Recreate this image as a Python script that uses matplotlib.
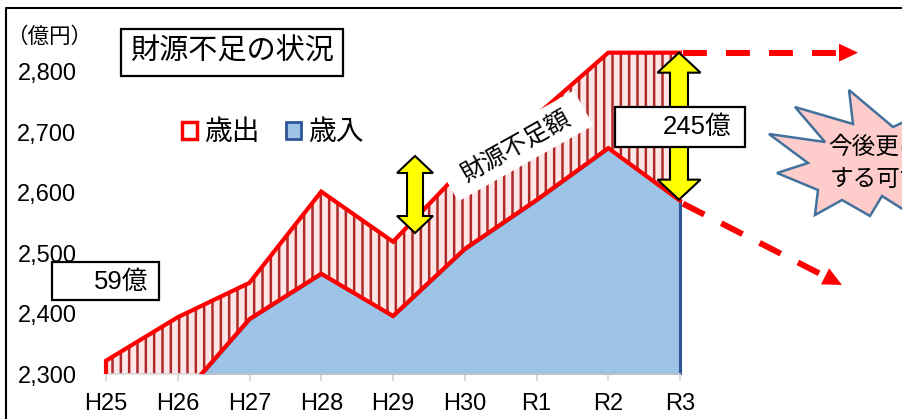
import numpy as np
import matplotlib
matplotlib.use('Agg')
import matplotlib.pyplot as plt
from matplotlib.patches import Rectangle, Polygon, Patch
from matplotlib.lines import Line2D
from matplotlib.transforms import Affine2D
from matplotlib.ticker import FuncFormatter

# data (億円)
years = ['H25', 'H26', 'H27', 'H28', 'H29', 'H30', 'R1', 'R2', 'R3']
expenditure = [2322, 2394, 2451, 2602, 2519, 2643, 2728, 2832, 2832]   # 歳出
revenue = [2263, 2255, 2391, 2466, 2396, 2507, 2588, 2674, 2587]       # 歳入
y_ticks = [2300, 2400, 2500, 2600, 2700, 2800]
gap_first = '59億'
gap_last = '245億'

W, H = 902, 419
plt.rcParams['font.family'] = ['Liberation Sans', 'Noto Sans CJK JP']
plt.rcParams['hatch.linewidth'] = 1.8

fig = plt.figure(figsize=(W / 100, H / 100), dpi=100)
# pixel coordinates, origin at top left
px = Affine2D().scale(1.0 / W, -1.0 / H).translate(0, 1) + fig.transFigure

x0, dx = 106, 71.75    # pixel of first year, pixels per year
y0, dy = 374, 0.604    # pixel of 2300, pixels per 億円
base = y_ticks[0]
left = 100
ax = fig.add_axes([left / W, (H - y0) / H, (W - left) / W, y0 / H])
ax.set_xlim((left - x0) / dx, (W - x0) / dx)
ax.set_ylim(base, base + y0 / dy)


def to_px(xv, yv):
    return (x0 + xv * dx, y0 - (yv - base) * dy)


x = np.arange(len(years))
exp = np.array(expenditure)
rev = np.array(revenue)

# shortfall (hatched) and revenue (blue) areas
ax.fill_between(x, rev, exp, facecolor='#fce6e6', edgecolor='#b02a2a',
                hatch='||', linewidth=0, zorder=1)
ax.fill_between(x, base, rev, where=rev >= base, interpolate=True,
                facecolor='#9dc3e6', edgecolor='#2f5597', linewidth=2.2, zorder=2)
ax.plot(np.r_[x[0], x], np.r_[base, exp], color='red', lw=3, zorder=3,
        solid_joinstyle='miter')
ax.plot(x, rev, color='red', lw=3, zorder=3, solid_joinstyle='miter')

for s in ['left', 'top', 'right']:
    ax.spines[s].set_visible(False)
ax.spines['bottom'].set_color('#d9d9d9')
ax.spines['bottom'].set_linewidth(1.2)
ax.spines['bottom'].set_bounds(x[0], x[-1])
ax.set_xticks(x)
ax.set_xticklabels(years)
ax.set_yticks(y_ticks)
ax.yaxis.set_major_formatter(FuncFormatter(lambda v, p: f'{v:,.0f}'))
ax.tick_params(axis='x', length=5, width=1.5, color='#d9d9d9', labelsize=17, pad=9)
ax.tick_params(axis='y', length=0, labelsize=17, pad=17)
ax.patch.set_visible(False)

# legend
handles = [Patch(facecolor='white', edgecolor='red', lw=2.5),
           Patch(facecolor='#9dc3e6', edgecolor='#2f5597', lw=2)]
ax.legend(handles, ['歳出', '歳入'], loc='center left', bbox_to_anchor=(182, 133),
          bbox_transform=px, ncol=2, frameon=False, fontsize=20,
          handlelength=0.55, handleheight=0.55, handletextpad=0.25,
          columnspacing=0.95, borderpad=0, borderaxespad=0)

# outer frame
fig.add_artist(Line2D([6, 6, 910], [430, 8.5, 8.5], transform=px, color='black', lw=1.5))

fig.text(6, 37, '（億円）', transform=px, fontsize=15.5, ha='left', va='center')


def box(x, y, w, h):
    fig.add_artist(Rectangle((x, y), w, h, transform=px, facecolor='white',
                             edgecolor='black', lw=1.6, zorder=5))


box(121, 29, 222, 47)
fig.text(232, 52, '財源不足の状況', transform=px, fontsize=21, ha='center', va='center', zorder=6)


def block_arrow(xc, yt, yb, hw, hl, sw):
    pts = [(xc, yt), (xc + hw / 2, yt + hl), (xc + sw / 2, yt + hl), (xc + sw / 2, yb - hl),
           (xc + hw / 2, yb - hl), (xc, yb), (xc - hw / 2, yb - hl), (xc - sw / 2, yb - hl),
           (xc - sw / 2, yt + hl), (xc - hw / 2, yt + hl)]
    fig.add_artist(Polygon(pts, closed=True, transform=px, facecolor='#ffff00',
                           edgecolor='black', lw=1.5, joinstyle='miter', zorder=4))


def dashed_arrow(p0, p1, hl=19, hw=18):
    p0 = np.array(p0, float)
    p1 = np.array(p1, float)
    d = (p1 - p0) / np.linalg.norm(p1 - p0)
    n = np.array([-d[1], d[0]])
    b = p1 - d * hl
    fig.add_artist(Line2D([p0[0], b[0]], [p0[1], b[1]], transform=px, color='red', lw=4.3,
                          linestyle=(0, (4, 3.2)), dash_capstyle='butt', zorder=4))
    fig.add_artist(Polygon([p1, b + n * hw / 2, b - n * hw / 2], transform=px,
                           facecolor='red', edgecolor='none', zorder=4))


# rotated label over the shortfall
cx, cy, L, Hb, ang = 516, 146, 155, 40, 29.4
a = np.deg2rad(ang)
u = np.array([np.cos(a), -np.sin(a)])
v = np.array([np.sin(a), np.cos(a)])
c = np.array([cx, cy])
corners = [c - u * L / 2 - v * Hb / 2, c + u * L / 2 - v * Hb / 2,
           c + u * L / 2 + v * Hb / 2, c - u * L / 2 + v * Hb / 2]
fig.add_artist(Polygon(corners, transform=px, facecolor='white', edgecolor='none', zorder=3))
fig.text(cx, cy, '財源不足額', transform=px, fontsize=17.5, rotation=ang,
         rotation_mode='anchor', ha='center', va='center', zorder=4)

block_arrow(415, 156, 233, 36, 17, 16)
top_px = to_px(x[-1], exp[-1])
bot_px = to_px(x[-1], rev[-1])
block_arrow(top_px[0] - 1, top_px[1], bot_px[1] - 1, 43, 20, 18)

box(52, 262, 107, 38)
fig.text(148, 282, gap_first, transform=px, fontsize=18.5, ha='right', va='center', zorder=6)
box(615, 107, 130, 40)
fig.text(732, 127, gap_last, transform=px, fontsize=18.5, ha='right', va='center', zorder=6)

dashed_arrow((top_px[0] + 3, top_px[1]), (858, top_px[1]))
dashed_arrow((bot_px[0] + 3, bot_px[1] + 3), (842, 285))

# starburst
star = [(849, 90), (853, 124), (795, 107), (825, 142), (769, 134), (808, 163), (777, 173),
        (818, 190), (815, 215), (842, 200), (870, 216), (882, 196), (912, 215), (915, 150),
        (930, 110), (893, 127)]
fig.add_artist(Polygon(star, closed=True, transform=px, facecolor='#ffcccc',
                       edgecolor='#41719c', lw=1.8, joinstyle='miter', zorder=4))
fig.text(828, 148, '今後更に拡大', transform=px, fontsize=17, ha='left', va='center', zorder=5)
fig.text(830, 180, 'する可能性', transform=px, fontsize=17, ha='left', va='center', zorder=5)

fig.savefig('out.png', dpi=100)
